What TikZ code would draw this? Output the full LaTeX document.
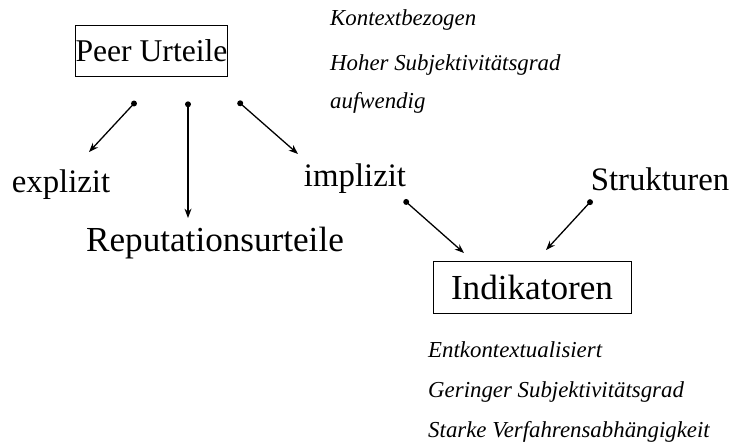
\documentclass[tikz,border=0pt]{standalone}
\usepackage{fontspec}
\setmainfont{Liberation Serif}
\usetikzlibrary{arrows.meta, calc}
\tikzstyle{box} = [rectangle, draw=black, semithick, inner sep=0pt, font=\fontsize{27}{30}\selectfont]
\tikzstyle{term} = [inner sep=0pt, font=\fontsize{28}{30}\selectfont]
\tikzstyle{note} = [anchor=west, inner sep=0pt, font=\fontsize{19.5}{22}\selectfont\itshape]
\tikzstyle{arrow} = [line width=1.1pt,{Circle[length=5pt]}-{Stealth[length=8pt,width=6pt]}]

\begin{document}
\begin{tikzpicture}[x=0.03cm, y=-0.03cm]
\useasboundingbox (0,0) rectangle (735,443);

\node (peer) [box, minimum width=4.47cm, minimum height=1.53cm] at (151.5,50.5) {Peer Urteile};
\node (n1) [note] at (330,20) {Kontextbezogen};
\node (n2) [note] at (330,65) {Hoher Subjektivitätsgrad};
\node (n3) [note] at (330,103) {aufwendig};

\node (explizit) [term] at (61,185) {explizit};
\node (reput) [term, font=\fontsize{30}{32}\selectfont] at (215,243) {Reputationsurteile};
\node (implizit) [term] at (355,179) {implizit};
\node (struk) [term] at (660,179) {Strukturen};

\node (ind) [box, font=\fontsize{30}{32}\selectfont, minimum width=5.94cm, minimum height=1.56cm] at (532,287) {Indikatoren};
\node (n4) [note] at (428,350) {Entkontextualisiert};
\node (n5) [note] at (428,392) {Geringer Subjektivitätsgrad};
\node (n6) [note] at (428,432) {Starke Verfahrensabhängigkeit};

\draw [arrow] ($(peer.south)+(-15.5,25)$) -- ($(explizit)+(28,-33)$);
\draw [arrow] ($(peer.south)+(36.5,25)$) -- ($(reput)+(-27,-25)$);
\draw [arrow] ($(peer.south)+(86.5,25)$) -- ($(implizit)+(-57,-25)$);
\draw [arrow] ($(implizit)+(49,21)$) -- ($(ind)+(-68,-34)$);
\draw [arrow] ($(struk)+(-68,21)$) -- ($(ind)+(14,-37)$);
\end{tikzpicture}
\end{document}
